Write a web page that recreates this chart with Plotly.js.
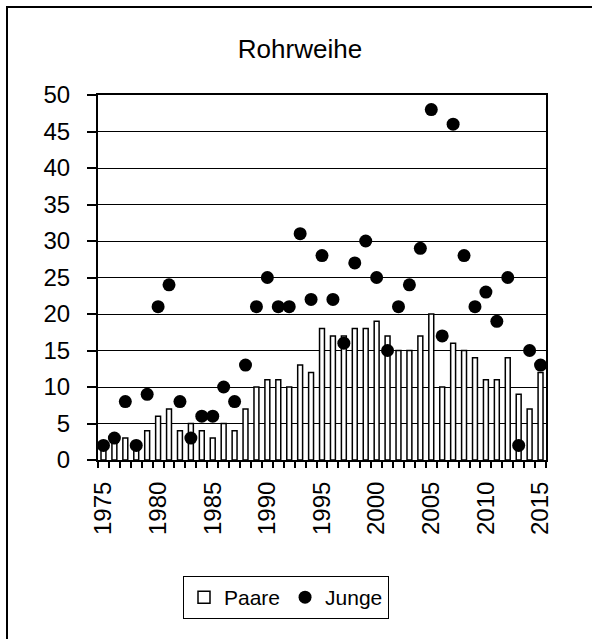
<!DOCTYPE html>
<html>
<head>
<meta charset="utf-8">
<script src="https://cdn.plot.ly/plotly-3.0.1.min.js"></script>
<style>html,body{margin:0;padding:0;background:#fff;}#chart{width:592px;height:639px;}</style>
</head>
<body>
<div id="chart"></div>
<script>
const years = [];
for (let y = 1975; y <= 2015; y++) years.push(y);
const paare = [2,3,3,2,4,6,7,4,5,4,3,5,4,7,10,11,11,10,13,12,18,17,17,18,18,19,17,15,15,17,20,10,16,15,14,11,11,14,9,7,12];
const junge = [2,3,8,2,9,21,24,8,3,6,6,10,8,13,21,25,21,21,31,22,28,22,16,27,30,25,15,21,24,29,48,17,46,28,21,23,19,25,2,15,13];
const xTickVals = [1975,1980,1985,1990,1995,2000,2005,2010,2015];
const yTickVals = [0,5,10,15,20,25,30,35,40,45,50];

const W = 592, H = 639, L = 98, R = 46, T = 95, B = 179;
const pw = W - L - R, ph = H - T - B;
const px = v => (v - L) / pw;
const py = v => (H - B - v) / ph;

const font = 'Arial, "Liberation Sans", sans-serif';

const data = [
  {type:'bar', name:'Paare', x: years, y: paare, width: 0.45,
   marker:{color:'#ffffff', line:{color:'#000000', width:1.5}}},
  {type:'scatter', mode:'markers', name:'Junge', x: years, y: junge,
   marker:{color:'#000000', size:13, symbol:'circle'}}
];

const layout = {
  width: W, height: H,
  margin:{l:L, r:R, t:T, b:B, pad:0},
  paper_bgcolor:'#ffffff', plot_bgcolor:'#ffffff',
  font:{family:font, size:24, color:'#000'},
  title:{text:'Rohrweihe', font:{family:font, size:26, color:'#000'},
         x: 300/W, xref:'container', xanchor:'center', y: 1 - 49/H, yref:'container', yanchor:'middle'},
  showlegend:true,
  legend:{orientation:'h', x: px(286), y: py(576), xanchor:'center', yanchor:'top',
          bordercolor:'#000', borderwidth:1, font:{family:font, size:21, color:'#000'},
          itemwidth:30, tracegroupgap:0, bgcolor:'#fff'},
  bargap:0.55,
  xaxis:{type:'linear', range:[1974.5, 2015.5], tickmode:'array', tickvals:xTickVals,
         tickangle:-90, ticks:'', ticklen:0, showgrid:false, zeroline:false,
         showline:true, linecolor:'#000', linewidth:2, mirror:true,
         ticklabelstandoff:10,
         minor:{tick0:1974.5, dtick:1, ticks:'outside', ticklen:6, tickwidth:2, tickcolor:'#000', showgrid:false},
         tickfont:{family:font, size:24, color:'#000'}},
  yaxis:{range:[0,50], tickmode:'array', tickvals:yTickVals, ticks:'outside', ticklen:9, tickwidth:2,
         tickcolor:'#000', showgrid:true, gridcolor:'#000', gridwidth:1, zeroline:false,
         showline:true, linecolor:'#000', linewidth:2, mirror:true,
         ticklabelstandoff:12,
         tickfont:{family:font, size:24, color:'#000'}},
  shapes:[
    {type:'rect', xref:'paper', yref:'paper', x0:px(7), x1:px(610), y0:py(660), y1:py(7),
     line:{color:'#000', width:2}, fillcolor:'rgba(0,0,0,0)', layer:'below'}
  ]
};

Plotly.newPlot('chart', data, layout, {staticPlot:true, displayModeBar:false});
</script>
</body>
</html>
